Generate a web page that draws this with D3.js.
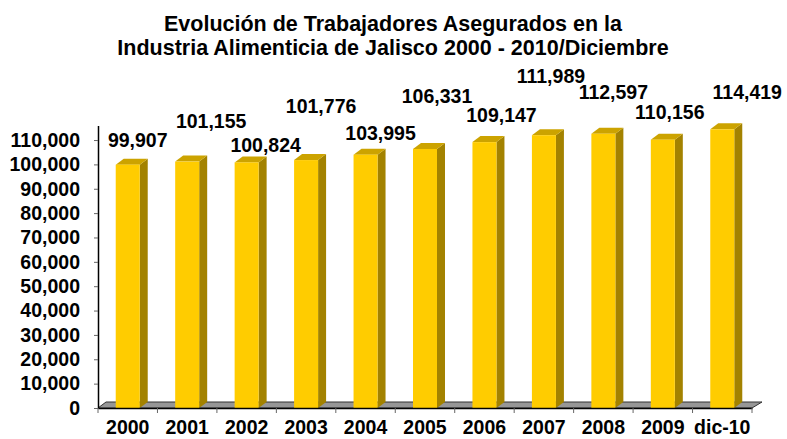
<!DOCTYPE html>
<html>
<head>
<meta charset="utf-8">
<script src="https://cdn.jsdelivr.net/npm/d3@7"></script>
<style>
  body { margin: 0; background: #fff; }
  svg { display: block; }
  text { font-family: Arial, "Liberation Sans", sans-serif; font-weight: bold; fill: #000; }
</style>
</head>
<body>
<script>
// data
var years = ["2000", "2001", "2002", "2003", "2004", "2005", "2006", "2007", "2008", "2009", "dic-10"];
var workers = [99907, 101155, 100824, 101776, 103995, 106331, 109147, 111989, 112597, 110156, 114419];
var yTicks = [0, 10000, 20000, 30000, 40000, 50000, 60000, 70000, 80000, 90000, 100000, 110000];
var titleLines = ["Evolución de Trabajadores Asegurados en la",
                  "Industria Alimenticia de Jalisco 2000 - 2010/Diciembre"];

// label placement (labels were hand-positioned in the original)
var labelLift = [18, 34, 10, 47, 15, 46, 20, 52, 35, 21, 30];
var labelShift = [10, 24, 19, 15, 15, 12, 17, 7, 10, 7, 25];

var W = 787, H = 439;
var left = 98, right = 752, base = 408;
var depthX = 8, depthY = -6;
var barW = 24;

var svg = d3.select("body").append("svg")
    .attr("width", W)
    .attr("height", H);

var x = d3.scaleBand()
    .domain(years)
    .range([left, right])
    .padding(0);

var y = d3.scaleLinear()
    .domain([0, 116000])
    .range([base, base - 116000 * 0.002436]);

// title
svg.append("g").selectAll("text")
    .data(titleLines)
    .enter().append("text")
    .attr("x", 393)
    .attr("y", function (d, i) { return 31 + i * 24; })
    .attr("text-anchor", "middle")
    .style("font-size", "21.5px")
    .text(function (d) { return d; });

//floor
svg.append("path")
    .attr("d", "M" + left + "," + base +
        "L" + (left + depthX) + "," + (base + depthY) +
        "L" + (right + depthX + 2) + "," + (base + depthY) +
        "L" + right + "," + base + "Z")
    .attr("fill", "#969696")
    .attr("stroke", "#333")
    .attr("stroke-width", 1);

// bars
var bars = svg.append("g").selectAll("g")
    .data(workers)
    .enter().append("g")
    .attr("transform", function (d, i) {
        return "translate(" + (x(years[i]) + x.bandwidth() / 2 - barW / 2) + ",0)";
    });

bars.append("path") // side
    .attr("d", function (d) {
        return "M" + barW + "," + y(d) + "L" + (barW + depthX) + "," + (y(d) + depthY) +
            "L" + (barW + depthX) + "," + (base + depthY) + "L" + barW + "," + base + "Z";
    })
    .attr("fill", "#A38200");

bars.append("path") // top
    .attr("d", function (d) {
        return "M0," + y(d) + "L" + depthX + "," + (y(d) + depthY) +
            "L" + (barW + depthX) + "," + (y(d) + depthY) + "L" + barW + "," + y(d) + "Z";
    })
    .attr("fill", "#CCA300");

bars.append("rect") // front
    .attr("x", 0)
    .attr("y", function (d) { return y(d); })
    .attr("width", barW)
    .attr("height", function (d) { return base - y(d); })
    .attr("fill", "#FFCC00");

// value labels
svg.append("g").selectAll("text")
    .data(workers)
    .enter().append("text")
    .attr("x", function (d, i) { return x(years[i]) + x.bandwidth() / 2 + labelShift[i]; })
    .attr("y", function (d, i) { return y(d) - labelLift[i]; })
    .attr("text-anchor", "middle")
    .style("font-size", "19.5px")
    .text(function (d) { return d3.format(",")(d); });

// y axis
var yAxis = svg.append("g")
    .attr("transform", "translate(" + left + ",0)")
    .call(d3.axisLeft(y).tickValues(yTicks).tickSize(4).tickSizeOuter(0).tickPadding(14)
        .tickFormat(d3.format(",")));
yAxis.select(".domain").attr("stroke", "#000").attr("stroke-width", 1.5);
yAxis.selectAll(".tick line").attr("stroke", "#666");
yAxis.selectAll("text")
    .style("font-size", "19.5px")
    .style("font-family", "Arial, 'Liberation Sans', sans-serif")
    .style("font-weight", "bold");

// x axis
var xAxis = svg.append("g")
    .attr("transform", "translate(0," + base + ")")
    .call(d3.axisBottom(x).tickSize(0).tickPadding(12));
xAxis.select(".domain").attr("stroke", "#000").attr("stroke-width", 1.5);
xAxis.selectAll("text")
    .style("font-size", "19.5px")
    .style("font-family", "Arial, 'Liberation Sans', sans-serif")
    .style("font-weight", "bold");

// category boundary ticks
svg.append("g").selectAll("line")
    .data(years.concat(["end"]))
    .enter().append("line")
    .attr("x1", function (d, i) { return left + i * x.bandwidth(); })
    .attr("x2", function (d, i) { return left + i * x.bandwidth(); })
    .attr("y1", base)
    .attr("y2", base + 5)
    .attr("stroke", "#666");
</script>
</body>
</html>
